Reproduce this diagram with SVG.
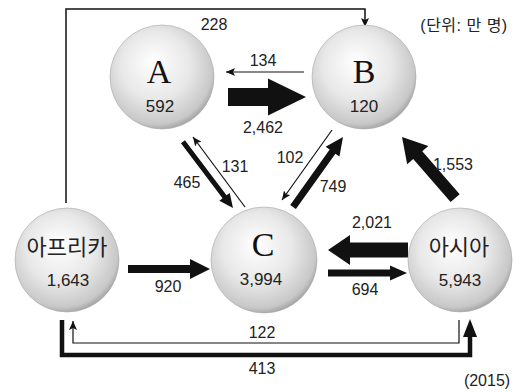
<svg xmlns="http://www.w3.org/2000/svg" width="531" height="392" viewBox="0 0 531 392">
<style>
.lbl{font-family:"Liberation Sans",Arial,sans-serif;font-size:16px;fill:#222;text-anchor:middle}
.num{font-family:"Liberation Sans",Arial,sans-serif;font-size:17px;fill:#222;text-anchor:middle}
.let{font-family:"Liberation Serif","Times New Roman",serif;font-size:34px;fill:#111;text-anchor:middle}
.kor{font-family:"Liberation Sans","Noto Sans CJK KR",sans-serif;font-size:22px;fill:#222;text-anchor:middle}
.ball{fill:url(#sph);stroke:#a8a8a8;stroke-width:0.6}
.thin{fill:none;stroke:#111;stroke-width:1.2;marker-end:url(#ah)}
.thick{fill:#111}
</style>
<defs>
<radialGradient id="sph" cx="0.45" cy="0.42" r="0.6" fx="0.42" fy="0.35">
<stop offset="0" stop-color="#ffffff"/>
<stop offset="0.55" stop-color="#e8e8e8"/>
<stop offset="0.9" stop-color="#c8c8c8"/>
<stop offset="1" stop-color="#a0a0a0"/>
</radialGradient>
<marker id="ah" markerUnits="userSpaceOnUse" markerWidth="10" markerHeight="8" refX="9" refY="4" orient="auto">
<path d="M0,0 L9,4 L0,8 L2,4 Z" fill="#111"/>
</marker>
</defs>
<rect width="531" height="392" fill="#fff"/>
<g id="connectors">
<path class="thin" d="M66,203 V9 H365 V27" style="stroke-width:1.5"/>
<path class="thin" d="M304,72 H226"/>
<path class="thin" d="M245,207 L193,137"/>
<path class="thin" d="M332,130 L282,200"/>
<path class="thin" d="M459,320 V343 H73 V321"/>
<path d="M62,320 V355 H470 V334" fill="none" stroke="#111" stroke-width="4.5"/>
<polygon class="thick" points="470,319 477,337 463,337"/>
<polygon class="thick" points="0,0 -38,-18.5 -38,-9 -78,-9 -78,9 -38,9 -38,18.5" transform="translate(306,97)"/>
<polygon class="thick" points="0,0 -14,-6.5 -14,-2.5 -83,-2.5 -83,2.5 -14,2.5 -14,6.5" transform="translate(233,208) rotate(52.9)"/>
<polygon class="thick" points="0,0 -18,-8.5 -18,-3.5 -86,-3.5 -86,3.5 -18,3.5 -18,8.5" transform="translate(343,137) rotate(-54.5)"/>
<polygon class="thick" points="0,0 -24,-14 -24,-6 -81,-6 -81,6 -24,6 -24,14" transform="translate(402,137) rotate(-131)"/>
<polygon class="thick" points="0,0 -22,-15 -22,-7.5 -80,-7.5 -80,7.5 -22,7.5 -22,15" transform="translate(328,250) rotate(180)"/>
<polygon class="thick" points="0,0 -17,-7.5 -17,-3.5 -79,-3.5 -79,3.5 -17,3.5 -17,7.5" transform="translate(407,273)"/>
<polygon class="thick" points="0,0 -20,-10 -20,-4 -82,-4 -82,4 -20,4 -20,10" transform="translate(210,269)"/>
<text class="lbl" x="214" y="30">228</text>
<text class="lbl" x="263" y="66">134</text>
<text class="lbl" x="263" y="133">2,462</text>
<text class="lbl" x="235" y="172">131</text>
<text class="lbl" x="187" y="188">465</text>
<text class="lbl" x="290" y="163">102</text>
<text class="lbl" x="333" y="192">749</text>
<text class="lbl" x="453" y="170">1,553</text>
<text class="lbl" x="372" y="228">2,021</text>
<text class="lbl" x="365" y="295">694</text>
<text class="lbl" x="168" y="292">920</text>
<text class="lbl" x="262" y="338">122</text>
<text class="lbl" x="262" y="374">413</text>
</g>
<g id="nodeA"><circle class="ball" cx="162" cy="77" r="52"/><text class="let" x="159" y="83">A</text><text class="num" x="160" y="112">592</text></g>
<g id="nodeB"><circle class="ball" cx="364" cy="77" r="52"/><text class="let" x="364" y="83">B</text><text class="num" x="364" y="112">120</text></g>
<g id="nodeC"><circle class="ball" cx="264" cy="260" r="53"/><text class="let" x="263" y="256">C</text><text class="num" x="261" y="285">3,994</text></g>
<g id="nodeAfrica"><circle class="ball" cx="67" cy="260" r="52"/><text class="kor" x="67" y="255">아프리카</text><text class="num" x="68" y="286">1,643</text></g>
<g id="nodeAsia"><circle class="ball" cx="460" cy="260" r="52"/><text class="kor" x="459" y="255">아시아</text><text class="num" x="460" y="286">5,943</text></g>
<text class="lbl" x="464" y="31" style="font-family:'Liberation Sans','Noto Sans CJK KR',sans-serif;font-size:16px;letter-spacing:0.5px">(단위: 만 명)</text>
<text class="lbl" x="487" y="386">(2015)</text>
</svg>
